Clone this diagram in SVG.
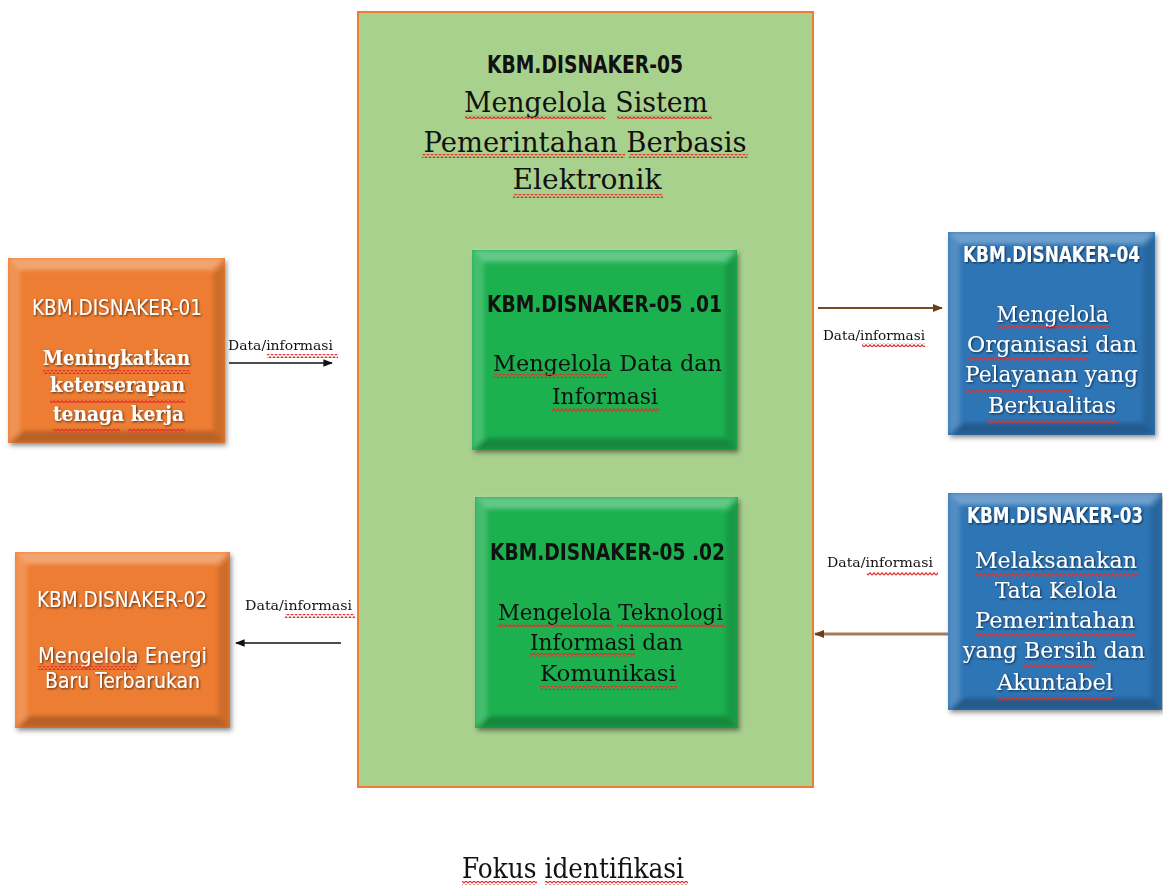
<svg xmlns="http://www.w3.org/2000/svg" width="1163" height="886" viewBox="0 0 1163 886">
  <defs>
    <style>
      .sans-b { font-family: "Liberation Sans Narrow", "DejaVu Sans Condensed", "Liberation Sans", sans-serif; font-weight: bold; }
      .sans { font-family: "Liberation Sans Narrow", "DejaVu Sans Condensed", "Liberation Sans", sans-serif; }
      .slab { font-family: "DejaVu Serif", "Liberation Serif", serif; }
      .slab-b { font-family: "DejaVu Serif", "Liberation Serif", serif; font-weight: bold; }
      .ink { fill: #111; }
      .white { fill: #fff; filter: url(#glow); }
      .lbl { font-family: "DejaVu Serif", "Liberation Serif", serif; font-size: 13px; fill: #111; }
      .wave { fill: url(#wave); }
      .hi { fill: #fff; }
      .lo { fill: #000; }
    </style>
    <pattern id="wave" width="4" height="4" patternUnits="userSpaceOnUse">
      <path d="M0 3.2 L2 0.8 L4 3.2" fill="none" stroke="#e0322c" stroke-width="1.2"/>
    </pattern>
    <filter id="glow" x="-10%" y="-30%" width="120%" height="160%">
      <feDropShadow dx="1" dy="1" stdDeviation="1" flood-color="#000" flood-opacity="0.65"/>
    </filter>
    <filter id="shadow" x="-10%" y="-10%" width="125%" height="125%">
      <feDropShadow dx="2" dy="3" stdDeviation="2.5" flood-color="#000" flood-opacity="0.35"/>
    </filter>
    <filter id="soft" x="-5%" y="-5%" width="110%" height="110%">
      <feGaussianBlur stdDeviation="2"/>
    </filter>
    <marker id="headBlack" viewBox="0 0 10 10" refX="9" refY="5" markerWidth="6" markerHeight="6" orient="auto-start-reverse">
      <path d="M0 1 L10 5 L0 9 Z" fill="#111"/>
    </marker>
    <marker id="headBrown" viewBox="0 0 10 10" refX="9" refY="5" markerWidth="5" markerHeight="5" orient="auto-start-reverse">
      <path d="M0 1 L10 5 L0 9 Z" fill="#6b3e1a"/>
    </marker>
    <marker id="headBrown2" viewBox="0 0 10 10" refX="9" refY="5" markerWidth="3.5" markerHeight="3.5" orient="auto-start-reverse">
      <path d="M0 1 L10 5 L0 9 Z" fill="#6b3e1a"/>
    </marker>
  </defs>

  <rect width="1163" height="886" fill="#fff"/>

  <!-- Container process KBM.DISNAKER-05 -->
  <g id="kbm05">
    <rect x="358" y="12" width="455" height="775" fill="#a9d18e" stroke="#ed7d31" stroke-width="2"/>
    <text class="sans-b ink" x="585" y="73" font-size="25" text-anchor="middle" textLength="196" lengthAdjust="spacingAndGlyphs">KBM.DISNAKER-05</text>
    <text class="slab ink" x="586" y="112" font-size="28" text-anchor="middle" textLength="244" lengthAdjust="spacingAndGlyphs">Mengelola Sistem</text>
    <text class="slab ink" x="585" y="152" font-size="28" text-anchor="middle" textLength="323" lengthAdjust="spacingAndGlyphs">Pemerintahan Berbasis</text>
    <text class="slab ink" x="587" y="189" font-size="28" text-anchor="middle" textLength="149" lengthAdjust="spacingAndGlyphs">Elektronik</text>
    <rect class="wave" x="465" y="115" width="140" height="4"/>
    <rect class="wave" x="617" y="115" width="95" height="4"/>
    <rect class="wave" x="422" y="154" width="203" height="4"/>
    <rect class="wave" x="629" y="154" width="119" height="4"/>
    <rect class="wave" x="513" y="194" width="150" height="4"/>
  </g>

  <!-- Sub-process 05.01 -->
  <g id="kbm05-01">
    <rect x="472" y="250" width="265" height="200" fill="#1cb050" filter="url(#shadow)"/>
    <g filter="url(#soft)" opacity="0.9">
      <polygon class="hi" opacity="0.35" points="472,250 737,250 725,262 484,262"/>
      <polygon class="hi" opacity="0.2" points="472,250 484,262 484,438 472,450"/>
      <polygon class="lo" opacity="0.15" points="737,250 737,450 725,438 725,262"/>
      <polygon class="lo" opacity="0.25" points="472,450 484,438 725,438 737,450"/>
    </g>
    <text class="sans-b ink" x="604.5" y="312" font-size="23" text-anchor="middle" textLength="235" lengthAdjust="spacingAndGlyphs">KBM.DISNAKER-05 .01</text>
    <text class="slab ink" x="607.5" y="371" font-size="23" text-anchor="middle" textLength="229" lengthAdjust="spacingAndGlyphs">Mengelola Data  dan</text>
    <text class="slab ink" x="605" y="404" font-size="23" text-anchor="middle" textLength="106" lengthAdjust="spacingAndGlyphs">Informasi</text>
    <rect class="wave" x="493" y="374" width="114" height="4"/>
    <rect class="wave" x="552" y="408" width="107" height="4"/>
  </g>

  <!-- Sub-process 05.02 -->
  <g id="kbm05-02">
    <rect x="475" y="497" width="263" height="231" fill="#1cb050" filter="url(#shadow)"/>
    <g filter="url(#soft)" opacity="0.9">
      <polygon class="hi" opacity="0.35" points="475,497 738,497 726,509 487,509"/>
      <polygon class="hi" opacity="0.2" points="475,497 487,509 487,716 475,728"/>
      <polygon class="lo" opacity="0.15" points="738,497 738,728 726,716 726,509"/>
      <polygon class="lo" opacity="0.25" points="475,728 487,716 726,716 738,728"/>
    </g>
    <text class="sans-b ink" x="607.5" y="560" font-size="23" text-anchor="middle" textLength="235" lengthAdjust="spacingAndGlyphs">KBM.DISNAKER-05 .02</text>
    <text class="slab ink" x="610.5" y="620" font-size="23" text-anchor="middle" textLength="225" lengthAdjust="spacingAndGlyphs">Mengelola Teknologi</text>
    <text class="slab ink" x="606.5" y="650" font-size="23" text-anchor="middle" textLength="153" lengthAdjust="spacingAndGlyphs">Informasi dan</text>
    <text class="slab ink" x="608" y="681" font-size="23" text-anchor="middle" textLength="136" lengthAdjust="spacingAndGlyphs">Komunikasi</text>
    <rect class="wave" x="498" y="623" width="115" height="4"/>
    <rect class="wave" x="617" y="623" width="108" height="4"/>
    <rect class="wave" x="530" y="653" width="105" height="4"/>
    <rect class="wave" x="540" y="686" width="137" height="4"/>
  </g>

  <!-- KBM.DISNAKER-01 -->
  <g id="kbm01">
    <rect x="8" y="258" width="217" height="185" fill="#ed7d31" filter="url(#shadow)"/>
    <g filter="url(#soft)" opacity="0.9">
      <polygon class="hi" opacity="0.35" points="8,258 225,258 213,270 20,270"/>
      <polygon class="hi" opacity="0.2" points="8,258 20,270 20,431 8,443"/>
      <polygon class="lo" opacity="0.15" points="225,258 225,443 213,431 213,270"/>
      <polygon class="lo" opacity="0.25" points="8,443 20,431 213,431 225,443"/>
    </g>
    <text class="sans white" x="117" y="315" font-size="21" text-anchor="middle" textLength="170" lengthAdjust="spacingAndGlyphs">KBM.DISNAKER-01</text>
    <text class="slab-b white" x="116.5" y="365" font-size="21" text-anchor="middle" textLength="147" lengthAdjust="spacingAndGlyphs">Meningkatkan</text>
    <text class="slab-b white" x="117.5" y="392" font-size="21" text-anchor="middle" textLength="135" lengthAdjust="spacingAndGlyphs">keterserapan</text>
    <text class="slab-b white" x="118.5" y="421" font-size="21" text-anchor="middle" textLength="131" lengthAdjust="spacingAndGlyphs">tenaga kerja</text>
    <rect class="wave" x="43" y="370" width="147" height="4"/>
    <rect class="wave" x="50" y="399" width="135" height="4"/>
    <rect class="wave" x="53" y="429" width="67" height="4"/>
    <rect class="wave" x="128" y="429" width="57" height="4"/>
  </g>

  <!-- KBM.DISNAKER-02 -->
  <g id="kbm02">
    <rect x="15" y="552" width="215" height="176" fill="#ed7d31" filter="url(#shadow)"/>
    <g filter="url(#soft)" opacity="0.9">
      <polygon class="hi" opacity="0.35" points="15,552 230,552 218,564 27,564"/>
      <polygon class="hi" opacity="0.2" points="15,552 27,564 27,716 15,728"/>
      <polygon class="lo" opacity="0.15" points="230,552 230,728 218,716 218,564"/>
      <polygon class="lo" opacity="0.25" points="15,728 27,716 218,716 230,728"/>
    </g>
    <text class="sans white" x="122" y="607" font-size="21" text-anchor="middle" textLength="170" lengthAdjust="spacingAndGlyphs">KBM.DISNAKER-02</text>
    <text class="sans white" x="122.5" y="663" font-size="22" text-anchor="middle" textLength="169" lengthAdjust="spacingAndGlyphs">Mengelola  Energi</text>
    <text class="sans white" x="122.5" y="688" font-size="22" text-anchor="middle" textLength="155" lengthAdjust="spacingAndGlyphs">Baru Terbarukan</text>
    <rect class="wave" x="38" y="666" width="99" height="4"/>
  </g>

  <!-- KBM.DISNAKER-04 -->
  <g id="kbm04">
    <rect x="948" y="232" width="207" height="203" fill="#2e75b6" filter="url(#shadow)"/>
    <g filter="url(#soft)" opacity="0.9">
      <polygon class="hi" opacity="0.35" points="948,232 1155,232 1143,244 960,244"/>
      <polygon class="hi" opacity="0.2" points="948,232 960,244 960,423 948,435"/>
      <polygon class="lo" opacity="0.15" points="1155,232 1155,435 1143,423 1143,244"/>
      <polygon class="lo" opacity="0.25" points="948,435 960,423 1143,423 1155,435"/>
    </g>
    <text class="sans-b white" x="1051.5" y="262" font-size="21" text-anchor="middle" textLength="177" lengthAdjust="spacingAndGlyphs">KBM.DISNAKER-04</text>
    <text class="slab white" x="1052.5" y="322" font-size="23" text-anchor="middle" textLength="112" lengthAdjust="spacingAndGlyphs">Mengelola</text>
    <text class="slab white" x="1052" y="352" font-size="23" text-anchor="middle" textLength="170" lengthAdjust="spacingAndGlyphs">Organisasi dan</text>
    <text class="slab white" x="1051.5" y="382" font-size="23" text-anchor="middle" textLength="173" lengthAdjust="spacingAndGlyphs">Pelayanan yang</text>
    <text class="slab white" x="1052" y="413" font-size="23" text-anchor="middle" textLength="128" lengthAdjust="spacingAndGlyphs">Berkualitas</text>
    <rect class="wave" x="997" y="326" width="113" height="4"/>
    <rect class="wave" x="967" y="357" width="121" height="4"/>
    <rect class="wave" x="965" y="389" width="107" height="4"/>
    <rect class="wave" x="988" y="420" width="129" height="4"/>
  </g>

  <!-- KBM.DISNAKER-03 -->
  <g id="kbm03">
    <rect x="948" y="493" width="214" height="217" fill="#2e75b6" filter="url(#shadow)"/>
    <g filter="url(#soft)" opacity="0.9">
      <polygon class="hi" opacity="0.35" points="948,493 1162,493 1150,505 960,505"/>
      <polygon class="hi" opacity="0.2" points="948,493 960,505 960,698 948,710"/>
      <polygon class="lo" opacity="0.15" points="1162,493 1162,710 1150,698 1150,505"/>
      <polygon class="lo" opacity="0.25" points="948,710 960,698 1150,698 1162,710"/>
    </g>
    <text class="sans-b white" x="1055" y="523" font-size="21" text-anchor="middle" textLength="176" lengthAdjust="spacingAndGlyphs">KBM.DISNAKER-03</text>
    <text class="slab white" x="1056" y="568" font-size="23" text-anchor="middle" textLength="162" lengthAdjust="spacingAndGlyphs">Melaksanakan</text>
    <text class="slab white" x="1056" y="598" font-size="23" text-anchor="middle" textLength="122" lengthAdjust="spacingAndGlyphs">Tata Kelola</text>
    <text class="slab white" x="1055" y="628" font-size="23" text-anchor="middle" textLength="160" lengthAdjust="spacingAndGlyphs">Pemerintahan</text>
    <text class="slab white" x="1054" y="658" font-size="23" text-anchor="middle" textLength="182" lengthAdjust="spacingAndGlyphs">yang Bersih dan</text>
    <text class="slab white" x="1055" y="690" font-size="23" text-anchor="middle" textLength="116" lengthAdjust="spacingAndGlyphs">Akuntabel</text>
    <rect class="wave" x="975" y="573" width="163" height="4"/>
    <rect class="wave" x="975" y="633" width="160" height="4"/>
    <rect class="wave" x="1023" y="663" width="70" height="4"/>
    <rect class="wave" x="997" y="697" width="116" height="4"/>
  </g>

  <!-- Data flows -->
  <g id="connectors">
    <line x1="229" y1="363" x2="332" y2="363" stroke="#111" stroke-width="1.6" marker-end="url(#headBlack)"/>
    <line x1="341" y1="643" x2="236" y2="643" stroke="#111" stroke-width="1.6" marker-end="url(#headBlack)"/>
    <line x1="818" y1="308" x2="942" y2="308" stroke="#7a4a22" stroke-width="2" marker-end="url(#headBrown)"/>
    <line x1="948" y1="634" x2="815" y2="634" stroke="#a57a5a" stroke-width="3" marker-end="url(#headBrown2)"/>

    <text class="lbl" x="280.5" y="350" text-anchor="middle" textLength="105" lengthAdjust="spacingAndGlyphs">Data/informasi</text>
    <rect class="wave" x="267" y="354" width="71" height="4"/>
    <text class="lbl" x="298.5" y="610" text-anchor="middle" textLength="107" lengthAdjust="spacingAndGlyphs">Data/informasi</text>
    <rect class="wave" x="285" y="614" width="70" height="4"/>
    <text class="lbl" x="874" y="340" text-anchor="middle" textLength="102" lengthAdjust="spacingAndGlyphs">Data/informasi</text>
    <rect class="wave" x="862" y="343" width="63" height="4"/>
    <text class="lbl" x="880" y="567" text-anchor="middle" textLength="106" lengthAdjust="spacingAndGlyphs">Data/informasi</text>
    <rect class="wave" x="867" y="572" width="71" height="4"/>
  </g>

  <!-- Caption -->
  <g id="caption">
    <text class="slab ink" x="573" y="878" font-size="28" text-anchor="middle" textLength="222" lengthAdjust="spacingAndGlyphs">Fokus identifikasi</text>
    <rect class="wave" x="462" y="881" width="75" height="4"/>
    <rect class="wave" x="545" y="881" width="143" height="4"/>
  </g>
</svg>
